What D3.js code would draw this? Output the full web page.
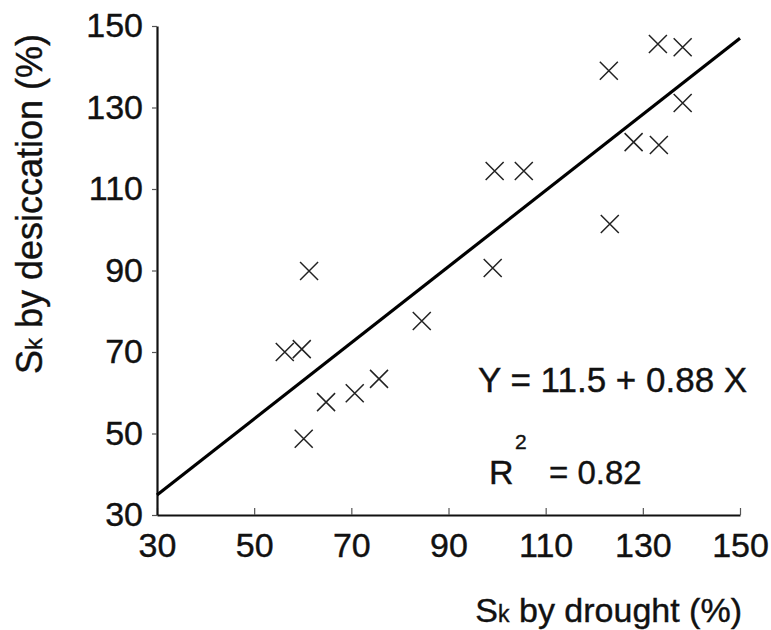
<!DOCTYPE html>
<html>
<head>
<meta charset="utf-8">
<script src="https://cdn.jsdelivr.net/npm/d3@7"></script>
<style>
  body { margin: 0; background: #fff; }
  svg { display: block; }
  text { font-family: Arial, "Liberation Sans", Helvetica, sans-serif; fill: #111; stroke: #111; stroke-width: 0.4px; }
</style>
</head>
<body>
<svg id="chart" width="771" height="630"></svg>
<script>
// Data
const drought     = [56.3, 59.8, 61.3, 60.2, 64.8, 70.7, 75.7, 84.5, 99.1, 99.5, 105.5, 123.0, 123.2, 133.1, 138.2, 138.2, 128.1, 133.3];
const desiccation = [70.0, 70.7, 89.9, 48.7, 57.7, 59.9, 63.4, 77.6, 90.6, 114.4, 114.4, 139.0, 101.4, 145.6, 144.8, 131.1, 121.5, 120.8];
const fitX = [30, 150];
const fitY = [34.9, 147];
const xTicks = [30, 50, 70, 90, 110, 130, 150];
const yTicks = [30, 50, 70, 90, 110, 130, 150];
const equationText = "Y = 11.5 + 0.88 X";
const r2Value = "= 0.82";

const svg = d3.select("#chart");
const x = d3.scaleLinear().domain([30, 150]).range([157, 740]);
const y = d3.scaleLinear().domain([30, 150]).range([515, 26]);

// Axes
const xAxis = d3.axisBottom(x).tickValues(xTicks).tickSizeInner(-7).tickSizeOuter(0).tickPadding(18);
const yAxis = d3.axisLeft(y).tickValues(yTicks).tickSizeInner(5).tickSizeOuter(0).tickPadding(9);

const gx = svg.append("g").attr("transform", `translate(0,${y(30)})`).call(xAxis);
const gy = svg.append("g").attr("transform", `translate(${x(30)},0)`).call(yAxis);
[gx, gy].forEach(g => {
  g.select(".domain").attr("stroke", "#111").attr("stroke-width", 2.2);
  g.selectAll(".tick line").attr("stroke", "#555").attr("stroke-width", 1.2);
  g.selectAll(".tick text").attr("font-size", 34).attr("fill", "#111")
    .attr("font-family", "Arial, 'Liberation Sans', sans-serif");
});

// Regression line
svg.append("line")
  .attr("x1", x(fitX[0])).attr("y1", y(fitY[0]))
  .attr("x2", x(fitX[1])).attr("y2", y(fitY[1]))
  .attr("stroke", "#000").attr("stroke-width", 3.2);

// X markers
const s = 9;
const pts = drought.map((d, i) => ({ x: d, y: desiccation[i] }));
const mk = svg.append("g").attr("stroke", "#222").attr("stroke-width", 1.5).attr("fill", "none");
mk.selectAll("path").data(pts).join("path")
  .attr("d", d => {
    const cx = x(d.x), cy = y(d.y);
    return `M${cx - s},${cy - s}L${cx + s},${cy + s}M${cx - s},${cy + s}L${cx + s},${cy - s}`;
  });

// Equation & R2
svg.append("text").attr("x", 478).attr("y", 392).attr("font-size", 35).text(equationText);
svg.append("text").attr("x", 489).attr("y", 484).attr("font-size", 34).text("R");
svg.append("text").attr("x", 515).attr("y", 449).attr("font-size", 21).text("2");
svg.append("text").attr("x", 549).attr("y", 484).attr("font-size", 33).text(r2Value);

// Axis titles
const xt = svg.append("text").attr("x", 742).attr("y", 622).attr("text-anchor", "end").attr("font-size", 34);
xt.append("tspan").text("S");
xt.append("tspan").attr("font-size", 23).text("k");
xt.append("tspan").text(" by drought (%)");

const yt = svg.append("text").attr("transform", "translate(42,204) rotate(-90)").attr("text-anchor", "middle").attr("font-size", 36);
yt.append("tspan").text("S");
yt.append("tspan").attr("font-size", 24).text("k");
yt.append("tspan").text(" by desiccation (%)");
</script>
</body>
</html>
